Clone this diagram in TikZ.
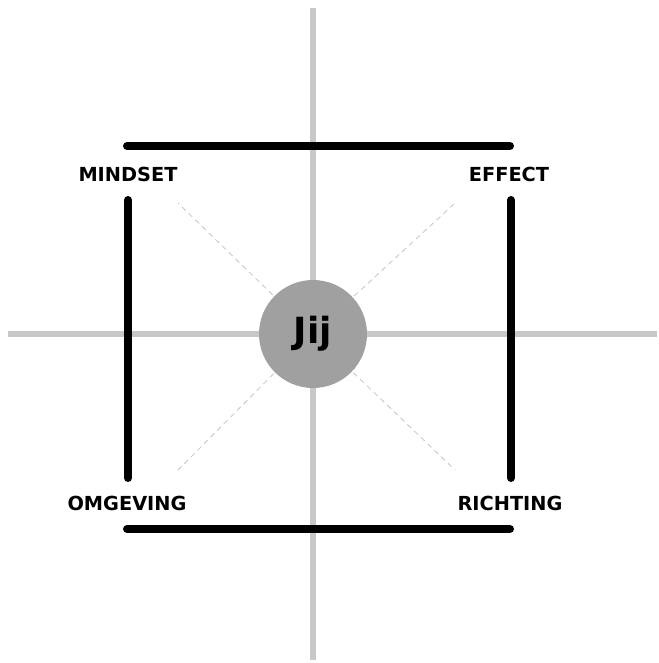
\documentclass[tikz,border=0pt]{standalone}
\usepackage{fontspec}
\setmainfont{DejaVu Sans}
\usetikzlibrary{positioning}
\definecolor{axisgrey}{HTML}{C8C8C8}
\definecolor{hubgrey}{HTML}{A0A0A0}
\definecolor{raygrey}{HTML}{C4C4C4}

\begin{document}
\begin{tikzpicture}[
  x=0.75pt, y=-0.75pt,
  axis/.style={draw=axisgrey, line width=5pt},
  frame/.style={draw=black, line width=6pt, line cap=round},
  ray/.style={draw=raygrey, line width=0.6pt, dash pattern=on 4pt off 3pt},
  hub/.style={circle, fill=hubgrey, minimum size=81pt, inner sep=0pt,
              font=\fontsize{27}{30}\selectfont\bfseries},
  corner/.style={font=\fontsize{14.5}{17}\selectfont\bfseries, inner sep=0pt}
]
  \useasboundingbox (0,0) rectangle (659,663);

  % axes
  \coordinate (top)    at (313,8);
  \coordinate (bottom) at (313,660);
  \coordinate (left)   at (8,334);
  \coordinate (right)  at (657,334);
  \draw[axis] (top) -- (bottom);
  \draw[axis] (left) -- (right);

  % dashed rays towards the corners
  \coordinate (rnw) at (178,203);
  \coordinate (rne) at (455,203);
  \coordinate (rsw) at (178,470);
  \coordinate (rse) at (455,470);
  \coordinate (c)   at (313,334);
  \draw[ray] (c) -- (rnw);
  \draw[ray] (c) -- (rne);
  \draw[ray] (c) -- (rsw);
  \draw[ray] (c) -- (rse);

  % frame bars
  \coordinate (t1) at (127,146);
  \coordinate (t2) at (510,146);
  \coordinate (b1) at (127,529);
  \coordinate (b2) at (510,529);
  \coordinate (l1) at (128,200);
  \coordinate (l2) at (128,478);
  \coordinate (r1) at (511,200);
  \coordinate (r2) at (511,478);
  \draw[frame] (t1) -- (t2);
  \draw[frame] (b1) -- (b2);
  \draw[frame] (l1) -- (l2);
  \draw[frame] (r1) -- (r2);

  % centre
  \node[hub] (jij) at (c) {Jij};

  % corner labels
  \node[corner] (mindset)  at (128,174) {MINDSET};
  \node[corner] (effect)   at (509,174) {EFFECT};
  \node[corner] (omgeving) at (127,503) {OMGEVING};
  \node[corner] (richting) at (510,503) {RICHTING};

\end{tikzpicture}
\end{document}
